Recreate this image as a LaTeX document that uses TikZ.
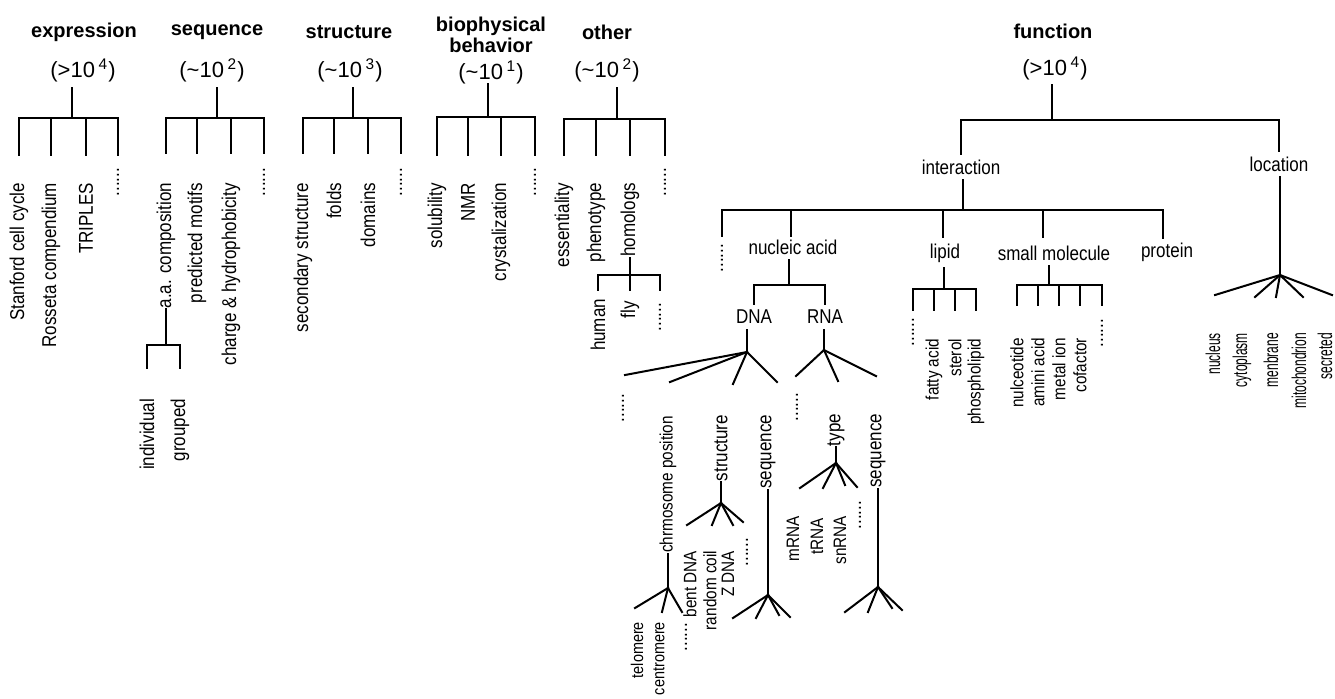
\documentclass[tikz,border=0pt]{standalone}
\usepackage{fontspec}
\setmainfont{Liberation Sans}[FakeStretch=0.85]
\newfontfamily\headfont{Liberation Sans}
\newfontfamily\condfont{Liberation Sans}[FakeStretch=0.6]

\tikzset{
  head/.style={font=\headfont\bfseries\fontsize{10}{10.5}\selectfont, inner sep=0pt, align=center},
  count/.style={font=\headfont\fontsize{11}{12}\selectfont, inner sep=0pt},
  term/.style={font=\fontsize{10}{11}\selectfont, inner sep=2.5pt},
  leaf/.style={font=\fontsize{10}{11}\selectfont, inner sep=0pt, rotate=90, anchor=east},
  subleaf/.style={leaf, font=\fontsize{9}{10}\selectfont},
  tinyleaf/.style={leaf, font=\fontsize{8.5}{9.5}\selectfont},
  locleaf/.style={leaf, font=\condfont\fontsize{10}{11}\selectfont},
  dots/.style={leaf},
  tree/.style={line width=1pt, line cap=rect}
}

\begin{document}
\begin{tikzpicture}[x=0.5pt, y=-0.5pt, tree]
\useasboundingbox (0,0) rectangle (1335,698);

% expression
\node[head] (exp) at (84,32) {expression};
\node[count] (expn) at (83,70) {(>10\,\textsuperscript{4})};
\coordinate (exp-t) at (72,88);
\coordinate (exp-j) at (72,118);
\coordinate (exp-e) at (72,155);
\node[leaf] (exp1) at (19,182) {Stanford cell cycle};
\node[leaf] (exp2) at (51,182) {Rosseta compendium};
\node[leaf] (exp3) at (86,182) {TRIPLES};
\node[dots] (exp4) at (118,167) {......};
\draw (exp-t) -- (exp-j);
\draw (exp1.east |- exp-j) -- (exp4.east |- exp-j);
\foreach \n in {exp1,exp2,exp3,exp4}
  \draw (\n.east |- exp-j) -- (\n.east |- exp-e);

% sequence
\node[head] (seq) at (217,32) {sequence};
\node[count] (seqn) at (212,70) {(\textasciitilde10\,\textsuperscript{2})};
\coordinate (seq-t) at (217,88);
\coordinate (seq-j) at (217,118);
\coordinate (seq-e) at (217,153);
\node[leaf] (seq1) at (166,182) {a.a. composition};
\node[leaf] (seq2) at (197,182) {predicted motifs};
\node[leaf] (seq3) at (231,182) {charge \& hydrophobicity};
\node[dots] (seq4) at (264,167) {......};
\draw (seq-t) -- (seq-j);
\draw (seq1.east |- seq-j) -- (seq4.east |- seq-j);
\foreach \n in {seq1,seq2,seq3,seq4}
  \draw (\n.east |- seq-j) -- (\n.east |- seq-e);

\coordinate (aa-j) at (166,345);
\coordinate (aa-e) at (166,368);
\node[leaf] (aa1) at (147,398) {individual};
\node[leaf] (aa2) at (180,398) {grouped};
\draw (seq1.west) -- (seq1.west |- aa-j);
\draw (aa1.east |- aa-j) -- (aa2.east |- aa-j);
\foreach \n in {aa1,aa2}
  \draw (\n.east |- aa-j) -- (\n.east |- aa-e);

% structure
\node[head] (str) at (349,32) {structure};
\node[count] (strn) at (350,70) {(\textasciitilde10\,\textsuperscript{3})};
\coordinate (str-t) at (353,88);
\coordinate (str-j) at (353,118);
\coordinate (str-e) at (353,153);
\node[leaf] (str1) at (303,182) {secondary structure};
\node[leaf] (str2) at (334,182) {folds};
\node[leaf] (str3) at (368,182) {domains};
\node[dots] (str4) at (401,167) {......};
\draw (str-t) -- (str-j);
\draw (str1.east |- str-j) -- (str4.east |- str-j);
\foreach \n in {str1,str2,str3,str4}
  \draw (\n.east |- str-j) -- (\n.east |- str-e);

% biophysical behavior
\node[head] (bio) at (491,35) {biophysical\\behavior};
\node[count] (bion) at (491,72) {(\textasciitilde10\,\textsuperscript{1})};
\coordinate (bio-t) at (488,84);
\coordinate (bio-j) at (488,117);
\coordinate (bio-e) at (488,155);
\node[leaf] (bio1) at (437,182) {solubility};
\node[leaf] (bio2) at (468,182) {NMR};
\node[leaf] (bio3) at (501,182) {crystalization};
\node[dots] (bio4) at (535,167) {......};
\draw (bio-t) -- (bio-j);
\draw (bio1.east |- bio-j) -- (bio4.east |- bio-j);
\foreach \n in {bio1,bio2,bio3,bio4}
  \draw (\n.east |- bio-j) -- (\n.east |- bio-e);

% other
\node[head] (oth) at (607,32) {other};
\node[count] (othn) at (607,70) {(\textasciitilde10\,\textsuperscript{2})};
\coordinate (oth-t) at (617,88);
\coordinate (oth-j) at (617,119);
\coordinate (oth-e) at (617,155);
\node[leaf] (oth1) at (564,182) {essentiality};
\node[leaf] (oth2) at (596,182) {phenotype};
\node[leaf] (oth3) at (630,182) {homologs};
\node[dots] (oth4) at (665,167) {......};
\draw (oth-t) -- (oth-j);
\draw (oth1.east |- oth-j) -- (oth4.east |- oth-j);
\foreach \n in {oth1,oth2,oth3,oth4}
  \draw (\n.east |- oth-j) -- (\n.east |- oth-e);

\coordinate (hom-j) at (630,275);
\coordinate (hom-e) at (630,290);
\node[leaf] (hom1) at (598,298) {human};
\node[leaf] (hom2) at (630,300) {fly};
\node[dots] (hom3) at (660,302) {......};
\draw (oth3.west) -- (oth3.west |- hom-j);
\draw (hom1.east |- hom-j) -- (hom3.east |- hom-j);
\foreach \n in {hom1,hom2,hom3}
  \draw (\n.east |- hom-j) -- (\n.east |- hom-e);

% function
\node[head] (fun) at (1053,31) {function};
\node[count] (funn) at (1055,68) {(>10\,\textsuperscript{4})};
\coordinate (fun-t) at (1052,85);
\coordinate (fun-j) at (1052,120);
\node[term] (int) at (961,167) {interaction};
\node[term] (loc) at (1279,164) {location};
\draw (fun-t) -- (fun-j);
\draw (int.north |- fun-j) -- (loc.north |- fun-j);
\foreach \n in {int,loc}
  \draw (\n.north |- fun-j) -- (\n.north);

% interaction
\coordinate (int-j) at (963,210);
\node[dots] (intd) at (722,243) {......};
\node[term] (nuc) at (793,247) {nucleic acid};
\node[term] (lip) at (945,253) {lipid};
\node[term] (sml) at (1054,253) {small molecule};
\node[term] (pro) at (1167,252) {protein};
\coordinate (c-dots) at (722,236);
\coordinate (c-nuc) at (791,236);
\coordinate (c-lip) at (943,237);
\coordinate (c-sml) at (1043,237);
\coordinate (c-pro) at (1163,238);
\draw (int-j |- int.south) -- (int-j);
\draw (c-dots |- int-j) -- (c-pro |- int-j);
\foreach \c in {c-dots,c-nuc,c-lip,c-sml,c-pro}
  \draw (\c |- int-j) -- (\c);

% nucleic acid
\coordinate (nuc-j) at (789,285);
\node[term] (dna) at (754,317) {DNA};
\node[term] (rna) at (825,317) {RNA};
\draw (nuc-j |- nuc.south) -- (nuc-j);
\draw (dna.north |- nuc-j) -- (rna.north |- nuc-j);
\foreach \n in {dna,rna}
  \draw (\n.north |- nuc-j) -- (\n.north);

% DNA
\coordinate (dna-a) at (747,352);
\coordinate (dna-f1) at (625,375);
\coordinate (dna-f2) at (670,382);
\coordinate (dna-f3) at (733,384);
\coordinate (dna-f4) at (777,382);
\draw (dna-a |- dna.south) -- (dna-a);
\foreach \c in {dna-f1,dna-f2,dna-f3,dna-f4}
  \draw (dna-a) -- (\c);
\node[dots] (dnad) at (623,393) {......};
\node[subleaf] (chr) at (668,415) {chrmosome position};
\node[leaf] (dstr) at (721,414) {structure};
\node[leaf] (dseq) at (768,414) {sequence};

\coordinate (chr-a) at (668,588);
\coordinate (chr-f1) at (635,608);
\coordinate (chr-f2) at (662,612);
\coordinate (chr-f3) at (682,612);
\draw (chr.west) -- (chr-a);
\foreach \c in {chr-f1,chr-f2,chr-f3}
  \draw (chr-a) -- (\c);
\node[tinyleaf] (telo) at (637,621) {telomere};
\node[tinyleaf] (cent) at (659,621) {centromere};
\node[dots] (chrd) at (686,622) {......};

\coordinate (dstr-a) at (721,503);
\coordinate (dstr-f1) at (687,525);
\coordinate (dstr-f2) at (712,525);
\coordinate (dstr-f3) at (733,525);
\coordinate (dstr-f4) at (743,522);
\draw (dstr.west) -- (dstr-a);
\foreach \c in {dstr-f1,dstr-f2,dstr-f3,dstr-f4}
  \draw (dstr-a) -- (\c);
\node[subleaf] (bent) at (690,550) {bent DNA};
\node[subleaf] (rand) at (710,550) {random coil};
\node[subleaf] (zdna) at (728,550) {Z DNA};
\node[dots] (dstrd) at (747,537) {......};

\coordinate (dseq-a) at (768,595);
\coordinate (dseq-f1) at (733,618);
\coordinate (dseq-f2) at (756,618);
\coordinate (dseq-f3) at (779,615);
\coordinate (dseq-f4) at (790,617);
\draw (dseq.west) -- (dseq-a);
\foreach \c in {dseq-f1,dseq-f2,dseq-f3,dseq-f4}
  \draw (dseq-a) -- (\c);

% RNA
\coordinate (rna-a) at (824,350);
\coordinate (rna-f1) at (796,376);
\coordinate (rna-f2) at (838,381);
\coordinate (rna-f3) at (876,376);
\draw (rna-a |- rna.south) -- (rna-a);
\foreach \c in {rna-f1,rna-f2,rna-f3}
  \draw (rna-a) -- (\c);
\node[dots] (rnad) at (797,392) {......};
\node[leaf] (type) at (836,413) {type};
\node[leaf] (rseq) at (878,413) {sequence};

\coordinate (type-a) at (836,463);
\coordinate (type-f1) at (800,488);
\coordinate (type-f2) at (823,488);
\coordinate (type-f3) at (845,485);
\coordinate (type-f4) at (857,487);
\draw (type.west) -- (type-a);
\foreach \c in {type-f1,type-f2,type-f3,type-f4}
  \draw (type-a) -- (\c);
\node[subleaf] (mrna) at (793,515) {mRNA};
\node[subleaf] (trna) at (817,517) {tRNA};
\node[subleaf] (snrna) at (840,515) {snRNA};
\node[dots] (typed) at (860,500) {......};

\coordinate (rseq-a) at (878,587);
\coordinate (rseq-f1) at (845,612);
\coordinate (rseq-f2) at (868,612);
\coordinate (rseq-f3) at (892,608);
\coordinate (rseq-f4) at (902,610);
\draw (rseq.west) -- (rseq-a);
\foreach \c in {rseq-f1,rseq-f2,rseq-f3,rseq-f4}
  \draw (rseq-a) -- (\c);

% lipid
\coordinate (lip-j) at (944,289);
\coordinate (lip-e) at (944,310);
\node[dots] (lipd) at (913,317) {......};
\node[subleaf] (fat) at (934,338) {fatty acid};
\node[subleaf] (ster) at (955,338) {sterol};
\node[subleaf] (phos) at (976,338) {phospholipid};
\draw (lip-j |- lip.south) -- (lip-j);
\draw (lipd.east |- lip-j) -- (phos.east |- lip-j);
\foreach \n in {lipd,fat,ster,phos}
  \draw (\n.east |- lip-j) -- (\n.east |- lip-e);

% small molecule
\coordinate (sml-j) at (1049,285);
\coordinate (sml-e) at (1049,305);
\node[subleaf] (nucl) at (1017,337) {nulceotide};
\node[subleaf] (amin) at (1038,337) {amini acid};
\node[subleaf] (metl) at (1059,337) {metal ion};
\node[subleaf] (cofa) at (1080,337) {cofactor};
\node[dots] (smld) at (1102,318) {......};
\draw (sml-j |- sml.south) -- (sml-j);
\draw (nucl.east |- sml-j) -- (smld.east |- sml-j);
\foreach \n in {nucl,amin,metl,cofa,smld}
  \draw (\n.east |- sml-j) -- (\n.east |- sml-e);

% location
\coordinate (loc-a) at (1280,275);
\coordinate (loc-f1) at (1215,295);
\coordinate (loc-f2) at (1255,297);
\coordinate (loc-f3) at (1276,297);
\coordinate (loc-f4) at (1303,297);
\coordinate (loc-f5) at (1332,295);
\draw (loc-a |- loc.south) -- (loc-a);
\foreach \c in {loc-f1,loc-f2,loc-f3,loc-f4,loc-f5}
  \draw (loc-a) -- (\c);
\node[locleaf] (nucs) at (1213,332) {nucleus};
\node[locleaf] (cyto) at (1242,332) {cytoplasm};
\node[locleaf] (memb) at (1271,332) {menbrane};
\node[locleaf] (mito) at (1299,332) {mitochondrion};
\node[locleaf] (secr) at (1325,332) {secreted};
\end{tikzpicture}
\end{document}
